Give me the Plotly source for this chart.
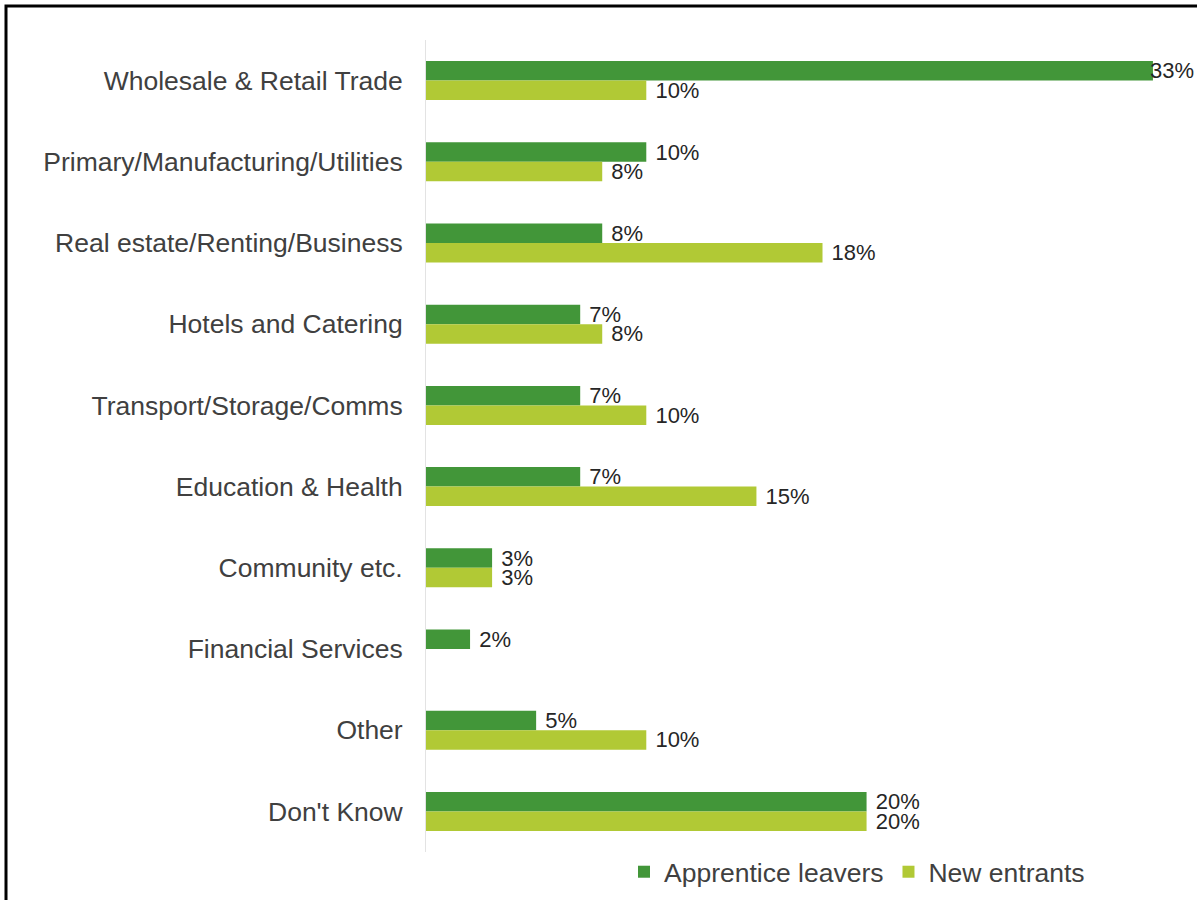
import plotly.graph_objects as go

# Sector of employment, share of respondents (%)
sectors = [
    "Wholesale & Retail Trade",
    "Primary/Manufacturing/Utilities",
    "Real estate/Renting/Business",
    "Hotels and Catering",
    "Transport/Storage/Comms",
    "Education & Health",
    "Community etc.",
    "Financial Services",
    "Other",
    "Don't Know",
]
apprentice_leavers = [33, 10, 8, 7, 7, 7, 3, 2, 5, 20]
new_entrants = [10, 8, 18, 8, 10, 15, 3, None, 10, 20]

DARK_GREEN = "#429639"
LIGHT_GREEN = "#B1C935"
FONT = "Liberation Sans, Arial, sans-serif"
LABEL_FONT = dict(family=FONT, size=22, color="#262626")

# page geometry (px)
FIG_W, FIG_H = 1197, 900
M_L, M_R, M_T, M_B = 426, 0, 40, 48
PLOT_W = FIG_W - M_L - M_R
PLOT_H = FIG_H - M_T - M_B
X_MAX = 35
# values this close to the right edge get their label tucked back against the bar end
EDGE_ROOM = 2.5


def to_paper_x(px):
    return (px - M_L) / PLOT_W


def to_paper_y(py):
    return (FIG_H - M_B - py) / PLOT_H


def pct_labels(values):
    out = []
    for v in values:
        if v is None or v > X_MAX - EDGE_ROOM:
            out.append("")
        else:
            out.append(f" {v}%")
    return out


def edge_annotations(values, series_index, n_series):
    notes = []
    for cat, v in zip(sectors, values):
        if v is not None and v > X_MAX - EDGE_ROOM:
            notes.append(dict(
                x=v, y=cat, xref="x", yref="y",
                text=f"{v}%", showarrow=False,
                xanchor="left", yanchor="middle",
                xshift=-5,
                yshift=(n_series - 1 - 2 * series_index) * 10,
                font=LABEL_FONT,
            ))
    return notes


fig = go.Figure()
for i, (name, vals, color) in enumerate([
    ("Apprentice leavers", apprentice_leavers, DARK_GREEN),
    ("New entrants", new_entrants, LIGHT_GREEN),
]):
    fig.add_trace(go.Bar(
        name=name,
        y=sectors,
        x=vals,
        orientation="h",
        marker=dict(color=color, line=dict(width=0)),
        text=pct_labels(vals),
        textposition="outside",
        constraintext="none",
        cliponaxis=False,
        textfont=LABEL_FONT,
    ))

annotations = edge_annotations(apprentice_leavers, 0, 2) + edge_annotations(new_entrants, 1, 2)

fig.update_layout(
    width=FIG_W,
    height=FIG_H,
    margin=dict(l=M_L, r=M_R, t=M_T, b=M_B, pad=0),
    paper_bgcolor="white",
    plot_bgcolor="white",
    barmode="group",
    bargap=0.52,
    bargroupgap=0,
    font=dict(family=FONT, color="#404040"),
    xaxis=dict(
        range=[0, X_MAX],
        showgrid=False,
        zeroline=False,
        showticklabels=False,
        showline=False,
        fixedrange=True,
    ),
    yaxis=dict(
        autorange="reversed",
        showgrid=False,
        zeroline=False,
        showline=True,
        linecolor="#E3E3E3",
        linewidth=1,
        ticks="",
        ticklabelstandoff=17,
        tickfont=dict(family=FONT, size=26.5, color="#404040"),
    ),
    legend=dict(
        orientation="h",
        x=to_paper_x(624),
        xanchor="left",
        y=to_paper_y(872),
        yanchor="middle",
        font=dict(family=FONT, size=26.5, color="#404040"),
        traceorder="normal",
        itemwidth=30,
        bgcolor="rgba(0,0,0,0)",
    ),
    showlegend=True,
    annotations=annotations,
    shapes=[
        dict(
            type="rect",
            xref="paper", yref="paper",
            x0=to_paper_x(6), x1=to_paper_x(1215),
            y0=to_paper_y(915), y1=to_paper_y(6),
            line=dict(color="black", width=3),
            fillcolor="rgba(0,0,0,0)",
            layer="above",
        )
    ],
)

fig.write_html("out.html")
